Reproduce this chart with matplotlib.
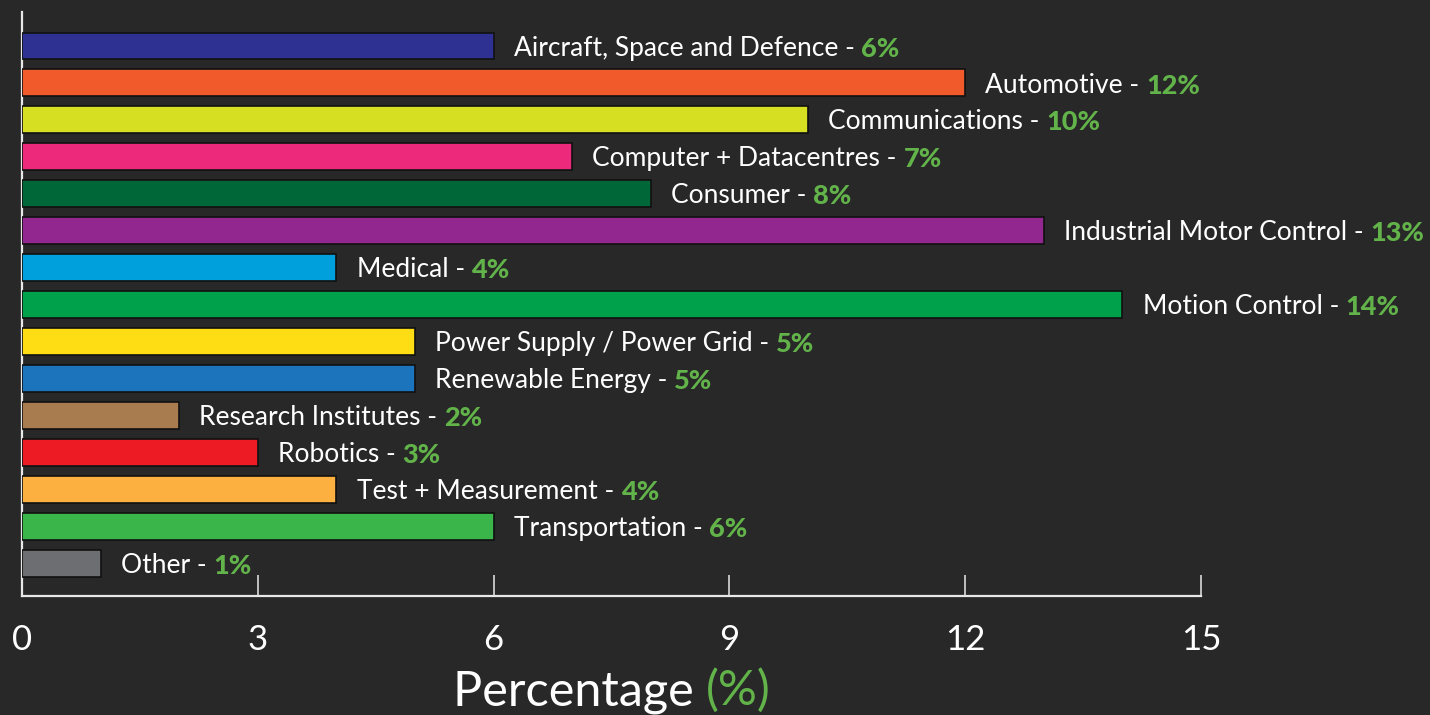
import matplotlib.pyplot as plt
import numpy as np

# data
sectors = ["Aircraft, Space and Defence", "Automotive", "Communications",
           "Computer + Datacentres", "Consumer", "Industrial Motor Control",
           "Medical", "Motion Control", "Power Supply / Power Grid",
           "Renewable Energy", "Research Institutes", "Robotics",
           "Test + Measurement", "Transportation", "Other"]
shares = [6, 12, 10, 7, 8, 13, 4, 14, 5, 5, 2, 3, 4, 6, 1]
bar_colours = ["#2e3192", "#f15a2b", "#d7df23", "#ed297b", "#006838",
               "#92278f", "#00a0dc", "#00a14b", "#ffdd15", "#1c75bc",
               "#a97c50", "#ed1c24", "#fbb040", "#39b54a", "#6d6e71"]
xticks = [0, 3, 6, 9, 12, 15]

BG = "#282828"
GREEN = "#62b34a"
plt.rcParams['font.family'] = ['Lato', 'DejaVu Sans']

fig = plt.figure(figsize=(14.3, 7.15), dpi=100, facecolor=BG)
ax = fig.add_axes([22 / 1430, 1 - 596 / 715, 1 - 22 / 1430, (596 - 12) / 715])
ax.set_facecolor(BG)

y = np.arange(len(sectors))
ax.barh(y, shares, height=0.73, color=bar_colours, edgecolor="#111111", linewidth=1.2, zorder=3)

ax.set_xlim(0, 1408 / 78.6)
ax.set_ylim(14.89, -0.92)

for s in ["top", "right"]:
    ax.spines[s].set_visible(False)
for s in ["left", "bottom"]:
    ax.spines[s].set_color("#e8e8e8")
    ax.spines[s].set_linewidth(1.6)
ax.spines["bottom"].set_bounds(0, 15)

ax.set_xticks(xticks)
ax.set_xticklabels([str(t) for t in xticks])
ax.tick_params(axis="x", direction="in", length=15, width=1.1, color="#e8e8e8",
               labelcolor="white", labelsize=25, pad=20)
ax.set_yticks([])

# labels: white name + green bold percentage
for yi, name, v in zip(y, sectors, shares):
    t = ax.annotate(name + " - ", xy=(v, yi), xytext=(14.5, -10.5), textcoords="offset points",
                    color="white", fontsize=19, va="bottom", ha="left")
    ax.annotate(f"{v}%", xy=(1, 0), xycoords=t, color=GREEN, fontsize=19.5,
                fontweight="black", va="bottom", ha="left")

# x axis title
t1 = fig.text(0, 10 / 715, "Percentage ", color="white", fontsize=35, ha="left", va="baseline")
t2 = fig.text(0, 10 / 715, "(%)", color=GREEN, fontsize=35, ha="left", va="baseline")
r = fig.canvas.get_renderer()
w1 = t1.get_window_extent(r).width
w2 = t2.get_window_extent(r).width
cx = 612
t1.set_x((cx - (w1 + w2) / 2) / 1430)
t2.set_x((cx - (w1 + w2) / 2 + w1) / 1430)

fig.savefig("out.png", dpi=100, facecolor=BG)
